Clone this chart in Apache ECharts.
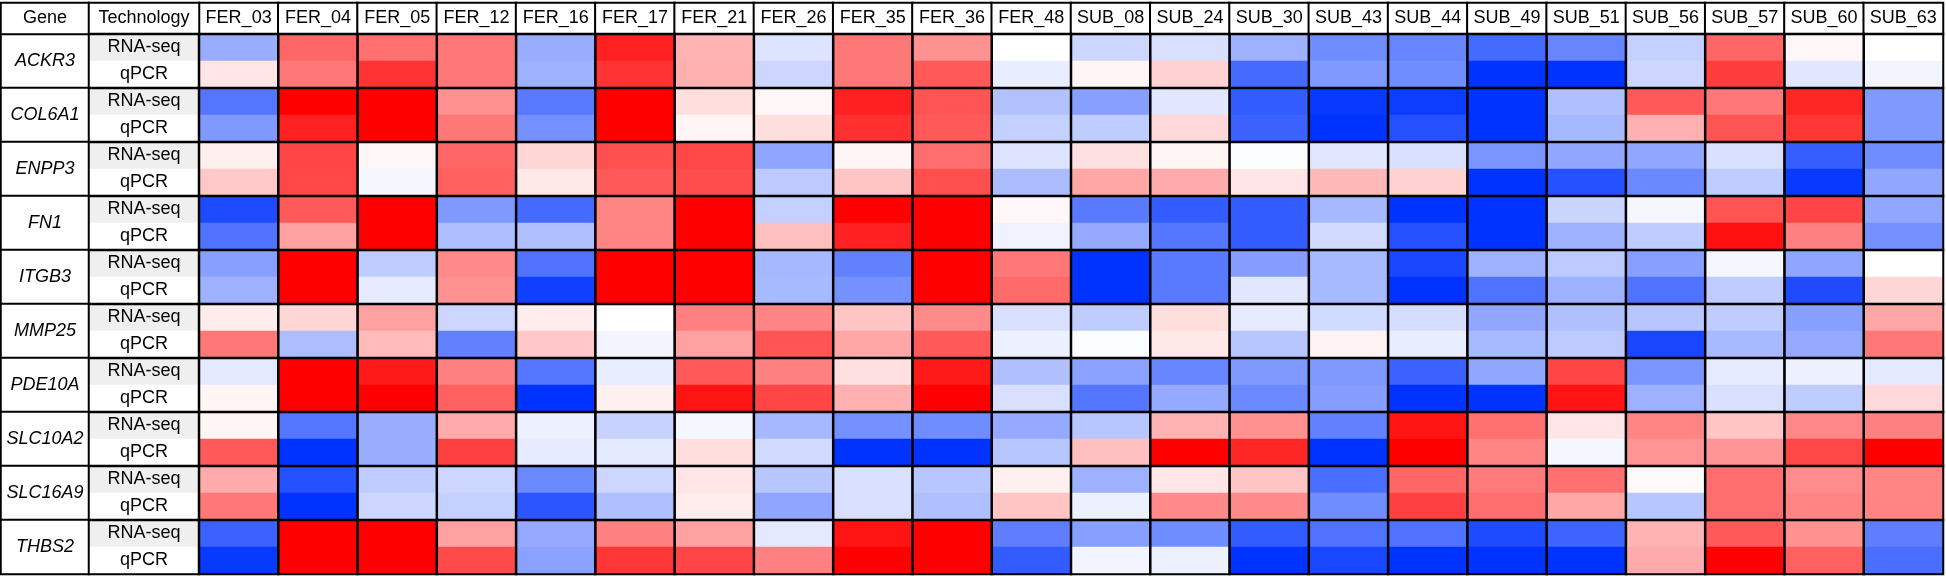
<!DOCTYPE html>
<html>
<head>
<meta charset="utf-8">
<script src="https://cdn.jsdelivr.net/npm/echarts@6/dist/echarts.min.js"></script>
<style>html,body{margin:0;padding:0;background:#fff;}#chart{width:1946px;height:579px;}</style>
</head>
<body>
<div id="chart"></div>
<script>
// ---- data ----
const samples = ['FER_03','FER_04','FER_05','FER_12','FER_16','FER_17','FER_21','FER_26','FER_35','FER_36','FER_48',
  'SUB_08','SUB_24','SUB_30','SUB_43','SUB_44','SUB_49','SUB_51','SUB_56','SUB_57','SUB_60','SUB_63'];
const genes = ['ACKR3','COL6A1','ENPP3','FN1','ITGB3','MMP25','PDE10A','SLC10A2','SLC16A9','THBS2'];
const techs = ['RNA-seq','qPCR'];
const headers = ['Gene','Technology'];
// scaled relative expression (-1 = blue, 0 = white, 1 = red), one row per gene, one value per sample
const rnaSeq = [
  [-0.4, 0.6, 0.56, 0.53, -0.4, 0.87, 0.3, -0.13, 0.53, 0.43, 0, -0.2, -0.15, -0.38, -0.56, -0.6, -0.73, -0.6, -0.23, 0.6, 0.03, 0],
  [-0.67, 1, 1, 0.43, -0.65, 1, 0.13, 0.03, 0.87, 0.67, -0.3, -0.47, -0.12, -0.8, -0.97, -0.95, -1, -0.31, 0.65, 0.53, 0.85, -0.5],
  [0.06, 0.73, 0.03, 0.6, 0.16, 0.69, 0.72, -0.44, 0.04, 0.57, -0.13, 0.12, 0.04, -0.01, -0.12, -0.15, -0.52, -0.43, -0.43, -0.15, -0.79, -0.56],
  [-0.88, 0.65, 1, -0.5, -0.73, 0.48, 1, -0.23, 1, 1, 0.03, -0.65, -0.8, -0.8, -0.35, -1, -1, -0.21, -0.04, 0.67, 0.73, -0.43],
  [-0.47, 1, -0.25, 0.46, -0.69, 1, 1, -0.35, -0.62, 1, 0.53, -1, -0.65, -0.48, -0.34, -0.9, -0.38, -0.26, -0.47, -0.04, -0.44, 0],
  [0.07, 0.16, 0.37, -0.2, 0.07, 0, 0.5, 0.48, 0.23, 0.46, -0.15, -0.25, 0.13, -0.1, -0.18, -0.16, -0.43, -0.31, -0.28, -0.25, -0.47, 0.35],
  [-0.11, 1, 0.9, 0.5, -0.67, -0.09, 0.65, 0.5, 0.12, 0.9, -0.31, -0.46, -0.6, -0.5, -0.5, -0.77, -0.43, 0.73, -0.52, -0.1, -0.07, -0.11],
  [0.04, -0.67, -0.4, 0.33, -0.07, -0.22, -0.04, -0.35, -0.54, -0.56, -0.42, -0.28, 0.3, 0.43, -0.62, 0.92, 0.56, 0.1, 0.48, 0.23, 0.47, 0.5],
  [0.33, -0.86, -0.25, -0.2, -0.58, -0.2, 0.1, -0.28, -0.15, -0.28, 0.06, -0.38, 0.1, 0.23, -0.71, 0.6, 0.52, 0.56, 0.02, 0.57, 0.45, 0.48],
  [-0.77, 1, 1, 0.37, -0.42, 0.5, 0.37, -0.11, 0.92, 1, -0.63, -0.47, -0.56, -0.8, -0.69, -0.69, -0.88, -0.76, 0.3, 0.65, 0.43, -0.63]
];
const qpcr = [
  [0.1, 0.53, 0.8, 0.53, -0.38, 0.8, 0.31, -0.2, 0.53, 0.65, -0.09, 0.04, 0.18, -0.73, -0.5, -0.56, -1, -1, -0.2, 0.76, -0.12, -0.05],
  [-0.5, 0.87, 1, 0.53, -0.54, 1, 0.04, 0.13, 0.81, 0.65, -0.23, -0.25, 0.15, -0.77, -1, -0.86, -1, -0.35, 0.31, 0.67, 0.79, -0.5],
  [0.21, 0.72, -0.04, 0.62, 0.09, 0.65, 0.7, -0.26, 0.23, 0.69, -0.33, 0.35, 0.33, 0.1, 0.28, 0.18, -1, -0.86, -0.58, -0.25, -0.97, -0.43],
  [-0.69, 0.37, 1, -0.32, -0.31, 0.48, 1, 0.25, 0.87, 1, -0.06, -0.42, -0.67, -0.8, -0.18, -0.86, -1, -0.38, -0.25, 0.94, 0.5, -0.54],
  [-0.38, 1, -0.1, 0.43, -0.94, 1, 1, -0.34, -0.54, 1, 0.58, -1, -0.65, -0.12, -0.34, -1, -0.69, -0.38, -0.69, -0.25, -0.88, 0.16],
  [0.53, -0.32, 0.27, -0.62, 0.22, -0.05, 0.37, 0.67, 0.35, 0.65, -0.07, -0.01, 0.09, -0.28, 0.05, -0.09, -0.34, -0.26, -0.9, -0.34, -0.42, 0.53],
  [0.04, 1, 1, 0.62, -1, 0.06, 0.92, 0.73, 0.31, 1, -0.15, -0.67, -0.42, -0.58, -0.48, -1, -1, 0.92, -0.38, -0.15, -0.25, 0.15],
  [0.65, -1, -0.4, 0.75, -0.1, -0.11, 0.13, -0.18, -1, -1, -0.28, 0.25, 1, 0.85, -1, 1, 0.48, -0.04, 0.42, 0.42, 0.72, 1],
  [0.53, -1, -0.2, -0.23, -0.83, -0.31, 0.07, -0.44, -0.15, -0.31, 0.23, -0.07, 0.46, 0.46, -0.56, 0.75, 0.57, 0.35, -0.28, 0.57, 0.48, 0.48],
  [-0.97, 1, 1, 0.71, -0.46, 0.79, 0.73, 0.5, 1, 1, -0.8, -0.05, -0.07, -1, -0.9, -1, -1, -1, 0.33, 1, 0.62, -0.71]
];

// ---- build ----
const FONT = '"Liberation Sans", Arial, sans-serif';
const rows = [];
genes.forEach(g => techs.forEach(t => rows.push(g + ' ' + t)));
const cellData = [];
genes.forEach((g, gi) => {
  samples.forEach((s, si) => {
    cellData.push([si, gi * 2, rnaSeq[gi][si]]);
    cellData.push([si, gi * 2 + 1, qpcr[gi][si]]);
  });
});
const blockData = [];
genes.forEach((g, gi) => samples.forEach((s, si) => blockData.push([si, gi, 0])));
const techData = rows.map((r, ri) => ({
  value: [0, ri, 0],
  itemStyle: { color: ri % 2 === 0 ? '#efefef' : '#ffffff' }
}));
const lbl = { show: true, color: '#000', fontFamily: FONT, fontSize: 18 };
const cat = (data, extra) => Object.assign({ type: 'category', data: data, show: false }, extra || {});

const L = { geneX: 1, techX: 89, dataX: 199, headY: 3, bodyY: 34 };
const W = { gene: 88, tech: 110, data: 1744, head: 31, body: 540 };

const option = {
  animation: false,
  backgroundColor: '#fff',
  grid: [
    { left: L.dataX, top: L.bodyY, width: W.data, height: W.body },   // 0 data
    { left: L.dataX, top: L.headY, width: W.data, height: W.head },   // 1 sample header
    { left: L.geneX, top: L.bodyY, width: W.gene, height: W.body },   // 2 gene column
    { left: L.techX, top: L.bodyY, width: W.tech, height: W.body },   // 3 tech column
    { left: L.geneX, top: L.headY, width: W.gene, height: W.head },   // 4 'Gene' header
    { left: L.techX, top: L.headY, width: W.tech, height: W.head }    // 5 'Technology' header
  ],
  xAxis: [
    cat(samples, { gridIndex: 0 }),
    cat(samples, { gridIndex: 1 }),
    cat([headers[0]], { gridIndex: 2 }),
    cat([headers[1]], { gridIndex: 3 }),
    cat([headers[0]], { gridIndex: 4 }),
    cat([headers[1]], { gridIndex: 5 })
  ],
  yAxis: [
    cat(rows, { gridIndex: 0, inverse: true }),          // 0
    cat(genes, { gridIndex: 0, inverse: true }),         // 1 blocks on data grid
    cat(['header'], { gridIndex: 1 }),                   // 2
    cat(genes, { gridIndex: 2, inverse: true }),         // 3
    cat(rows, { gridIndex: 3, inverse: true }),          // 4
    cat(genes, { gridIndex: 3, inverse: true }),         // 5
    cat(['header'], { gridIndex: 4 }),                   // 6
    cat(['header'], { gridIndex: 5 })                    // 7
  ],
  visualMap: {
    show: false, type: 'continuous', min: -1, max: 1, seriesIndex: 0, dimension: 2,
    inRange: { color: ['#0033ff', '#ffffff', '#ff0000'] }
  },
  series: [
    { type: 'heatmap', xAxisIndex: 0, yAxisIndex: 0, data: cellData, itemStyle: { borderWidth: 0 } },
    { type: 'heatmap', xAxisIndex: 0, yAxisIndex: 1, data: blockData, z: 5,
      itemStyle: { color: 'rgba(0,0,0,0)', borderColor: '#000', borderWidth: 2 } },
    { type: 'heatmap', xAxisIndex: 1, yAxisIndex: 2, data: samples.map((s, i) => [i, 0, 0]),
      itemStyle: { color: '#fff', borderColor: '#000', borderWidth: 2 },
      label: Object.assign({}, lbl, { formatter: p => samples[p.value[0]] }) },
    { type: 'heatmap', xAxisIndex: 2, yAxisIndex: 3, data: genes.map((g, i) => [0, i, 0]),
      itemStyle: { color: '#fff', borderColor: '#000', borderWidth: 2 },
      label: Object.assign({}, lbl, { fontStyle: 'italic', formatter: p => genes[p.value[1]] }) },
    { type: 'heatmap', xAxisIndex: 3, yAxisIndex: 4, data: techData,
      label: Object.assign({}, lbl, { formatter: p => techs[p.value[1] % 2] }) },
    { type: 'heatmap', xAxisIndex: 3, yAxisIndex: 5, data: genes.map((g, i) => [0, i, 0]), z: 5,
      itemStyle: { color: 'rgba(0,0,0,0)', borderColor: '#000', borderWidth: 2 } },
    { type: 'heatmap', xAxisIndex: 4, yAxisIndex: 6, data: [[0, 0, 0]],
      itemStyle: { color: '#fff', borderColor: '#000', borderWidth: 2 },
      label: Object.assign({}, lbl, { formatter: () => headers[0] }) },
    { type: 'heatmap', xAxisIndex: 5, yAxisIndex: 7, data: [[0, 0, 0]],
      itemStyle: { color: '#fff', borderColor: '#000', borderWidth: 2 },
      label: Object.assign({}, lbl, { formatter: () => headers[1] }) }
  ]
};
const chart = echarts.init(document.getElementById('chart'), null, { renderer: 'canvas' });
chart.setOption(option);
</script>
</body>
</html>
